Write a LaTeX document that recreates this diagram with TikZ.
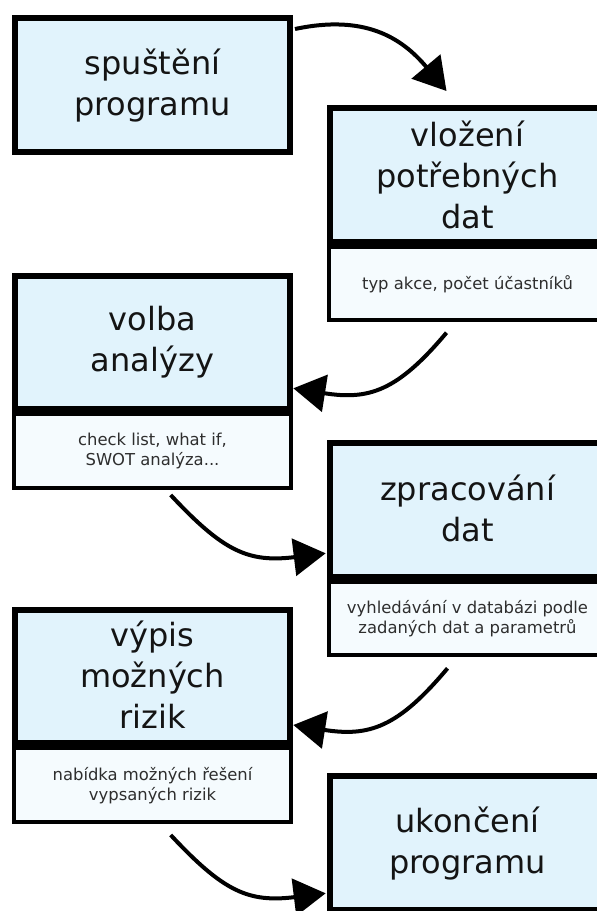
\documentclass[tikz,border=0pt]{standalone}
\usepackage{fontspec}
\setmainfont{DejaVu Sans}
\usetikzlibrary{arrows.meta}
\definecolor{upfill}{RGB}{225,243,252}
\definecolor{lowfill}{RGB}{245,251,254}
\begin{document}
\begin{tikzpicture}[x=1pt,y=1pt,
  upbox/.style={draw=black, line width=6pt, fill=upfill, rectangle, inner sep=0pt, outer sep=0pt,
    minimum width=275pt, minimum height=133.5pt, anchor=north west},
  lowbox/.style={draw=black, line width=4pt, fill=lowfill, rectangle, inner sep=0pt, outer sep=0pt,
    minimum width=277pt, minimum height=73.5pt, anchor=north west},
  bigtext/.style={anchor=base, inner sep=0pt, text=black!92, font=\fontsize{32}{41}\selectfont},
  smalltext/.style={anchor=base, inner sep=0pt, text=black!82, font=\fontsize{16.4}{20.5}\selectfont},
  flow/.style={line width=4pt, -{Triangle[length=32pt,width=37pt]}}
]
\useasboundingbox (0,0) rectangle (597,-911);
\begin{scope}
\clip (0,0) rectangle (597,-911);
% boxes
\node[upbox] (u1) at (15,-18) {};
\node[upbox] (u2) at (330,-108) {};
\node[lowbox] (l2) at (329,-246.5) {};
\node[upbox] (u3) at (15,-275.7) {};
\node[lowbox] (l3) at (14,-414.2) {};
\node[upbox] (u4) at (330,-443) {};
\node[lowbox] (l4) at (329,-581.5) {};
\node[upbox] (u5) at (15,-609.7) {};
\node[lowbox] (l5) at (14,-748.2) {};
\node[upbox] (u6) at (330,-776) {};
% texts
\node[bigtext] (t1) at ([yshift=-56pt]u1.north) {\begin{tabular}[t]{@{}c@{}}spuštění\\programu\end{tabular}};
\node[bigtext] (t2) at ([yshift=-38.5pt]u2.north) {\begin{tabular}[t]{@{}c@{}}vložení\\potřebných\\dat\end{tabular}};
\node[smalltext] (s2) at ([yshift=-43pt]l2.north) {\begin{tabular}[t]{@{}c@{}}typ akce, počet účastníků\end{tabular}};
\node[bigtext] (t3) at ([yshift=-54.3pt]u3.north) {\begin{tabular}[t]{@{}c@{}}volba\\analýzy\end{tabular}};
\node[smalltext] (s3) at ([yshift=-30.8pt]l3.north) {\begin{tabular}[t]{@{}c@{}}check list, what if,\\SWOT analýza...\end{tabular}};
\node[bigtext] (t4) at ([yshift=-57.7pt]u4.north) {\begin{tabular}[t]{@{}c@{}}zpracování\\dat\end{tabular}};
\node[smalltext] (s4) at ([yshift=-31.8pt]l4.north) {\begin{tabular}[t]{@{}c@{}}vyhledávání v databázi podle\\zadaných dat a parametrů\end{tabular}};
\node[bigtext] (t5) at ([yshift=-37pt]u5.north) {\begin{tabular}[t]{@{}c@{}}výpis\\možných\\rizik\end{tabular}};
\node[smalltext] (s5) at ([yshift=-31.8pt]l5.north) {\begin{tabular}[t]{@{}c@{}}nabídka možných řešení\\vypsaných rizik\end{tabular}};
\node[bigtext] (t6) at ([yshift=-56pt]u6.north) {\begin{tabular}[t]{@{}c@{}}ukončení\\programu\end{tabular}};
% connectors
\draw[flow] ([shift={(5,-11)}]u1.north east) to[out=12,in=130,looseness=1.1] ([shift={(-21,17)}]u2.north);
\draw[flow] ([shift={(-21,-12.7)}]l2.south) to[out=230,in=-9,looseness=1.2] ([shift={(3.3,20.9)}]u3.south east);
\draw[flow] ([shift={(18.2,-7.3)}]l3.south) to[out=-47,in=187,looseness=1.2] ([shift={(-4.3,23.2)}]u4.south west);
\draw[flow] ([shift={(-20,-13.3)}]l4.south) to[out=230,in=-9,looseness=1.2] ([shift={(3.3,18.2)}]u5.south east);
\draw[flow] ([shift={(18.2,-13.3)}]l5.south) to[out=-47,in=187,looseness=1.2] ([shift={(-4.3,16.2)}]u6.south west);
\end{scope}
\end{tikzpicture}
\end{document}
